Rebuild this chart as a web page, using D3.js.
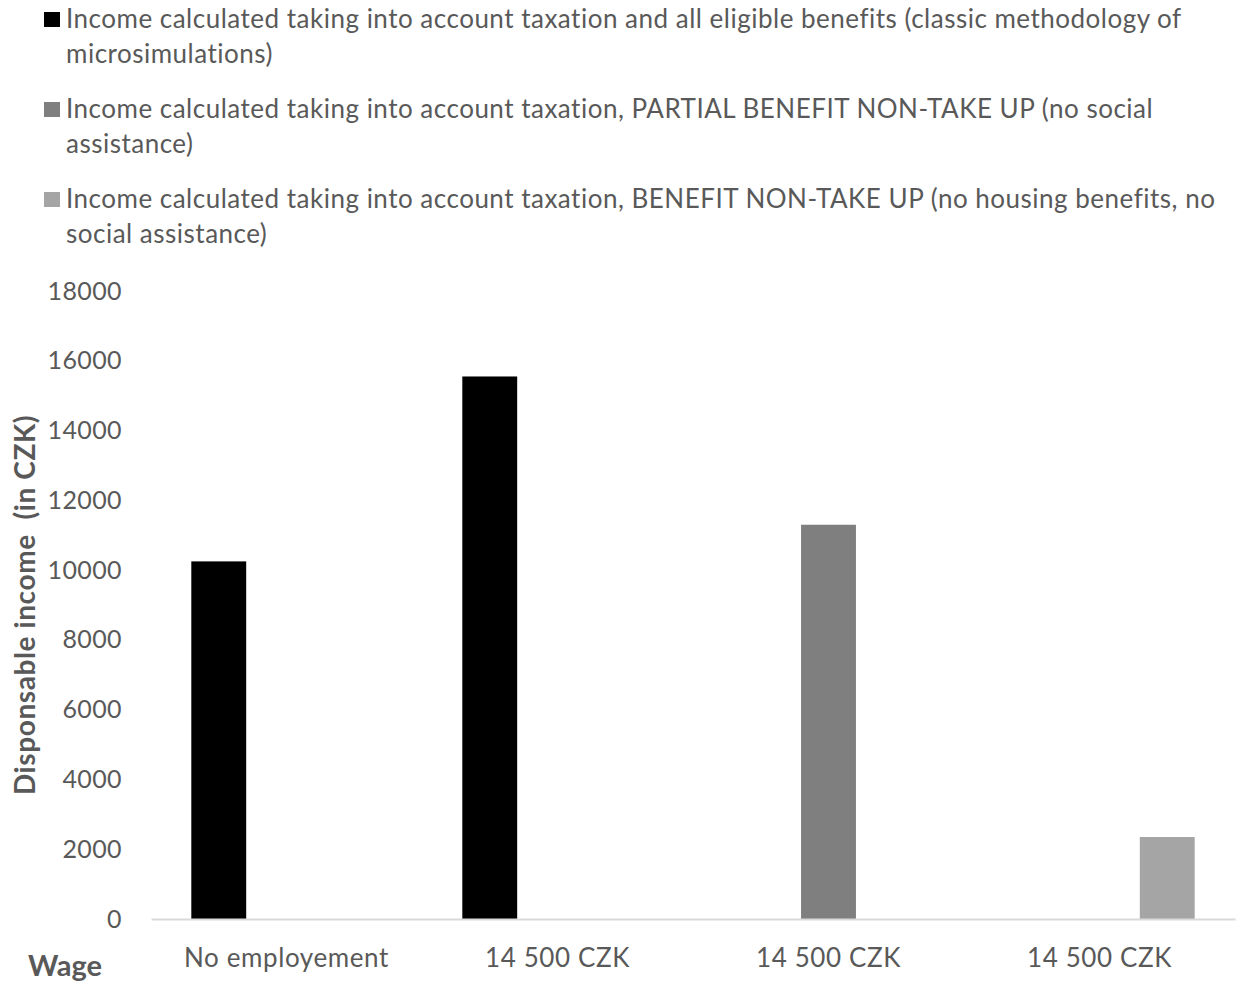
<!DOCTYPE html>
<html>
<head>
<meta charset="utf-8">
<script src="https://cdn.jsdelivr.net/npm/d3@7"></script>
<style>
  html, body { margin: 0; padding: 0; background: #ffffff; }
  svg { display: block; }
  text { font-family: Lato, "Open Sans", sans-serif; fill: #595959; }
</style>
</head>
<body>
<div id="chart"></div>
<script>
// Wage categories on the x axis
const categories = ["No employement", "14 500 CZK", "14 500 CZK", "14 500 CZK"];

// Series: disposable income (CZK) under three calculation methods
const seriesKeys = ["full", "partial", "nonTakeUp"];
const fullBenefits = [10250, 15550, 0, 0];
const partialNonTakeUp = [0, 0, 11300, 0];
const benefitNonTakeUp = [0, 0, 0, 2350];

// Legend entries, pre-broken into lines
const legendLines = [
  ["Income calculated taking into account taxation and all eligible benefits (classic methodology of", "microsimulations)"],
  ["Income calculated taking into account taxation, PARTIAL BENEFIT NON-TAKE UP (no social", "assistance)"],
  ["Income calculated taking into account taxation, BENEFIT NON-TAKE UP (no housing benefits, no", "social assistance)"]
];

// Y axis ticks
const yTicks = [0, 2000, 4000, 6000, 8000, 10000, 12000, 14000, 16000, 18000];

const seriesValues = [fullBenefits, partialNonTakeUp, benefitNonTakeUp];
const colors = ["#000000", "#7f7f7f", "#a5a5a5"];

const W = 1242, H = 984;
const plot = { left: 151, right: 1235, top: 291, bottom: 919 };

const svg = d3.select("#chart").append("svg")
  .attr("width", W).attr("height", H);

const x0 = d3.scaleBand()
  .domain(categories.map((d, i) => i))
  .range([plot.left, plot.right])
  .padding(0);

const x1 = d3.scaleBand()
  .domain(seriesKeys)
  .range([0, x0.bandwidth()])
  .paddingInner(0.19)
  .paddingOuter(0.595);

const y = d3.scaleLinear()
  .domain([0, 18000])
  .range([plot.bottom, plot.top]);

// Bars
const rows = categories.map((c, i) => ({
  i,
  values: seriesKeys.map((k, s) => ({ key: k, s, v: seriesValues[s][i] }))
}));

const groups = svg.append("g").selectAll("g")
  .data(rows).join("g")
  .attr("transform", d => `translate(${x0(d.i)},0)`);

groups.selectAll("rect")
  .data(d => d.values.filter(v => v.v > 0))
  .join("rect")
  .attr("x", d => x1(d.key))
  .attr("width", x1.bandwidth())
  .attr("y", d => y(d.v))
  .attr("height", d => y(0) - y(d.v))
  .attr("fill", d => colors[d.s]);

// Y axis (labels only)
const yAxis = svg.append("g")
  .attr("transform", `translate(${plot.left},0)`)
  .call(d3.axisLeft(y).tickValues(yTicks).tickFormat(d3.format("d")).tickSize(0).tickPadding(29));
yAxis.select(".domain").remove();
yAxis.selectAll("text")
  .style("font-family", "Lato, sans-serif")
  .style("font-size", "25px")
  .style("letter-spacing", "0.4px")
  .attr("fill", "#595959");

// X axis with baseline
const xAxis = svg.append("g")
  .attr("transform", `translate(0,${plot.bottom})`)
  .call(d3.axisBottom(x0).tickFormat(i => categories[i]).tickSize(0).tickSizeOuter(0).tickPadding(30));
xAxis.select(".domain").attr("stroke", "#d9d9d9").attr("stroke-width", 2);
xAxis.selectAll("text")
  .style("font-family", "Lato, sans-serif")
  .style("font-size", "26px")
  .style("letter-spacing", "0.6px")
  .attr("fill", "#595959");

// Axis titles
svg.append("text")
  .attr("transform", `translate(35,${(plot.top + plot.bottom) / 2}) rotate(-90)`)
  .attr("text-anchor", "middle")
  .style("font-size", "28px")
  .style("font-weight", "bold")
  .style("letter-spacing", "0.6px")
  .style("white-space", "pre")
  .text("Disponsable income  (in CZK)");

svg.append("text")
  .attr("x", 28).attr("y", 976)
  .style("font-size", "29px")
  .style("font-weight", "bold")
  .text("Wage");

// Legend
const legendBaselines = [[28, 63], [118, 153], [208, 243]];
const legend = svg.append("g");
legendLines.forEach((lines, s) => {
  const base = legendBaselines[s];
  legend.append("rect")
    .attr("x", 44).attr("y", base[0] - 16)
    .attr("width", 16).attr("height", 15)
    .attr("fill", colors[s]);
  lines.forEach((line, j) => {
    legend.append("text")
      .attr("x", 66).attr("y", base[j])
      .style("font-size", "26px")
      .style("letter-spacing", "0.5px")
      .text(line);
  });
});
</script>
</body>
</html>
